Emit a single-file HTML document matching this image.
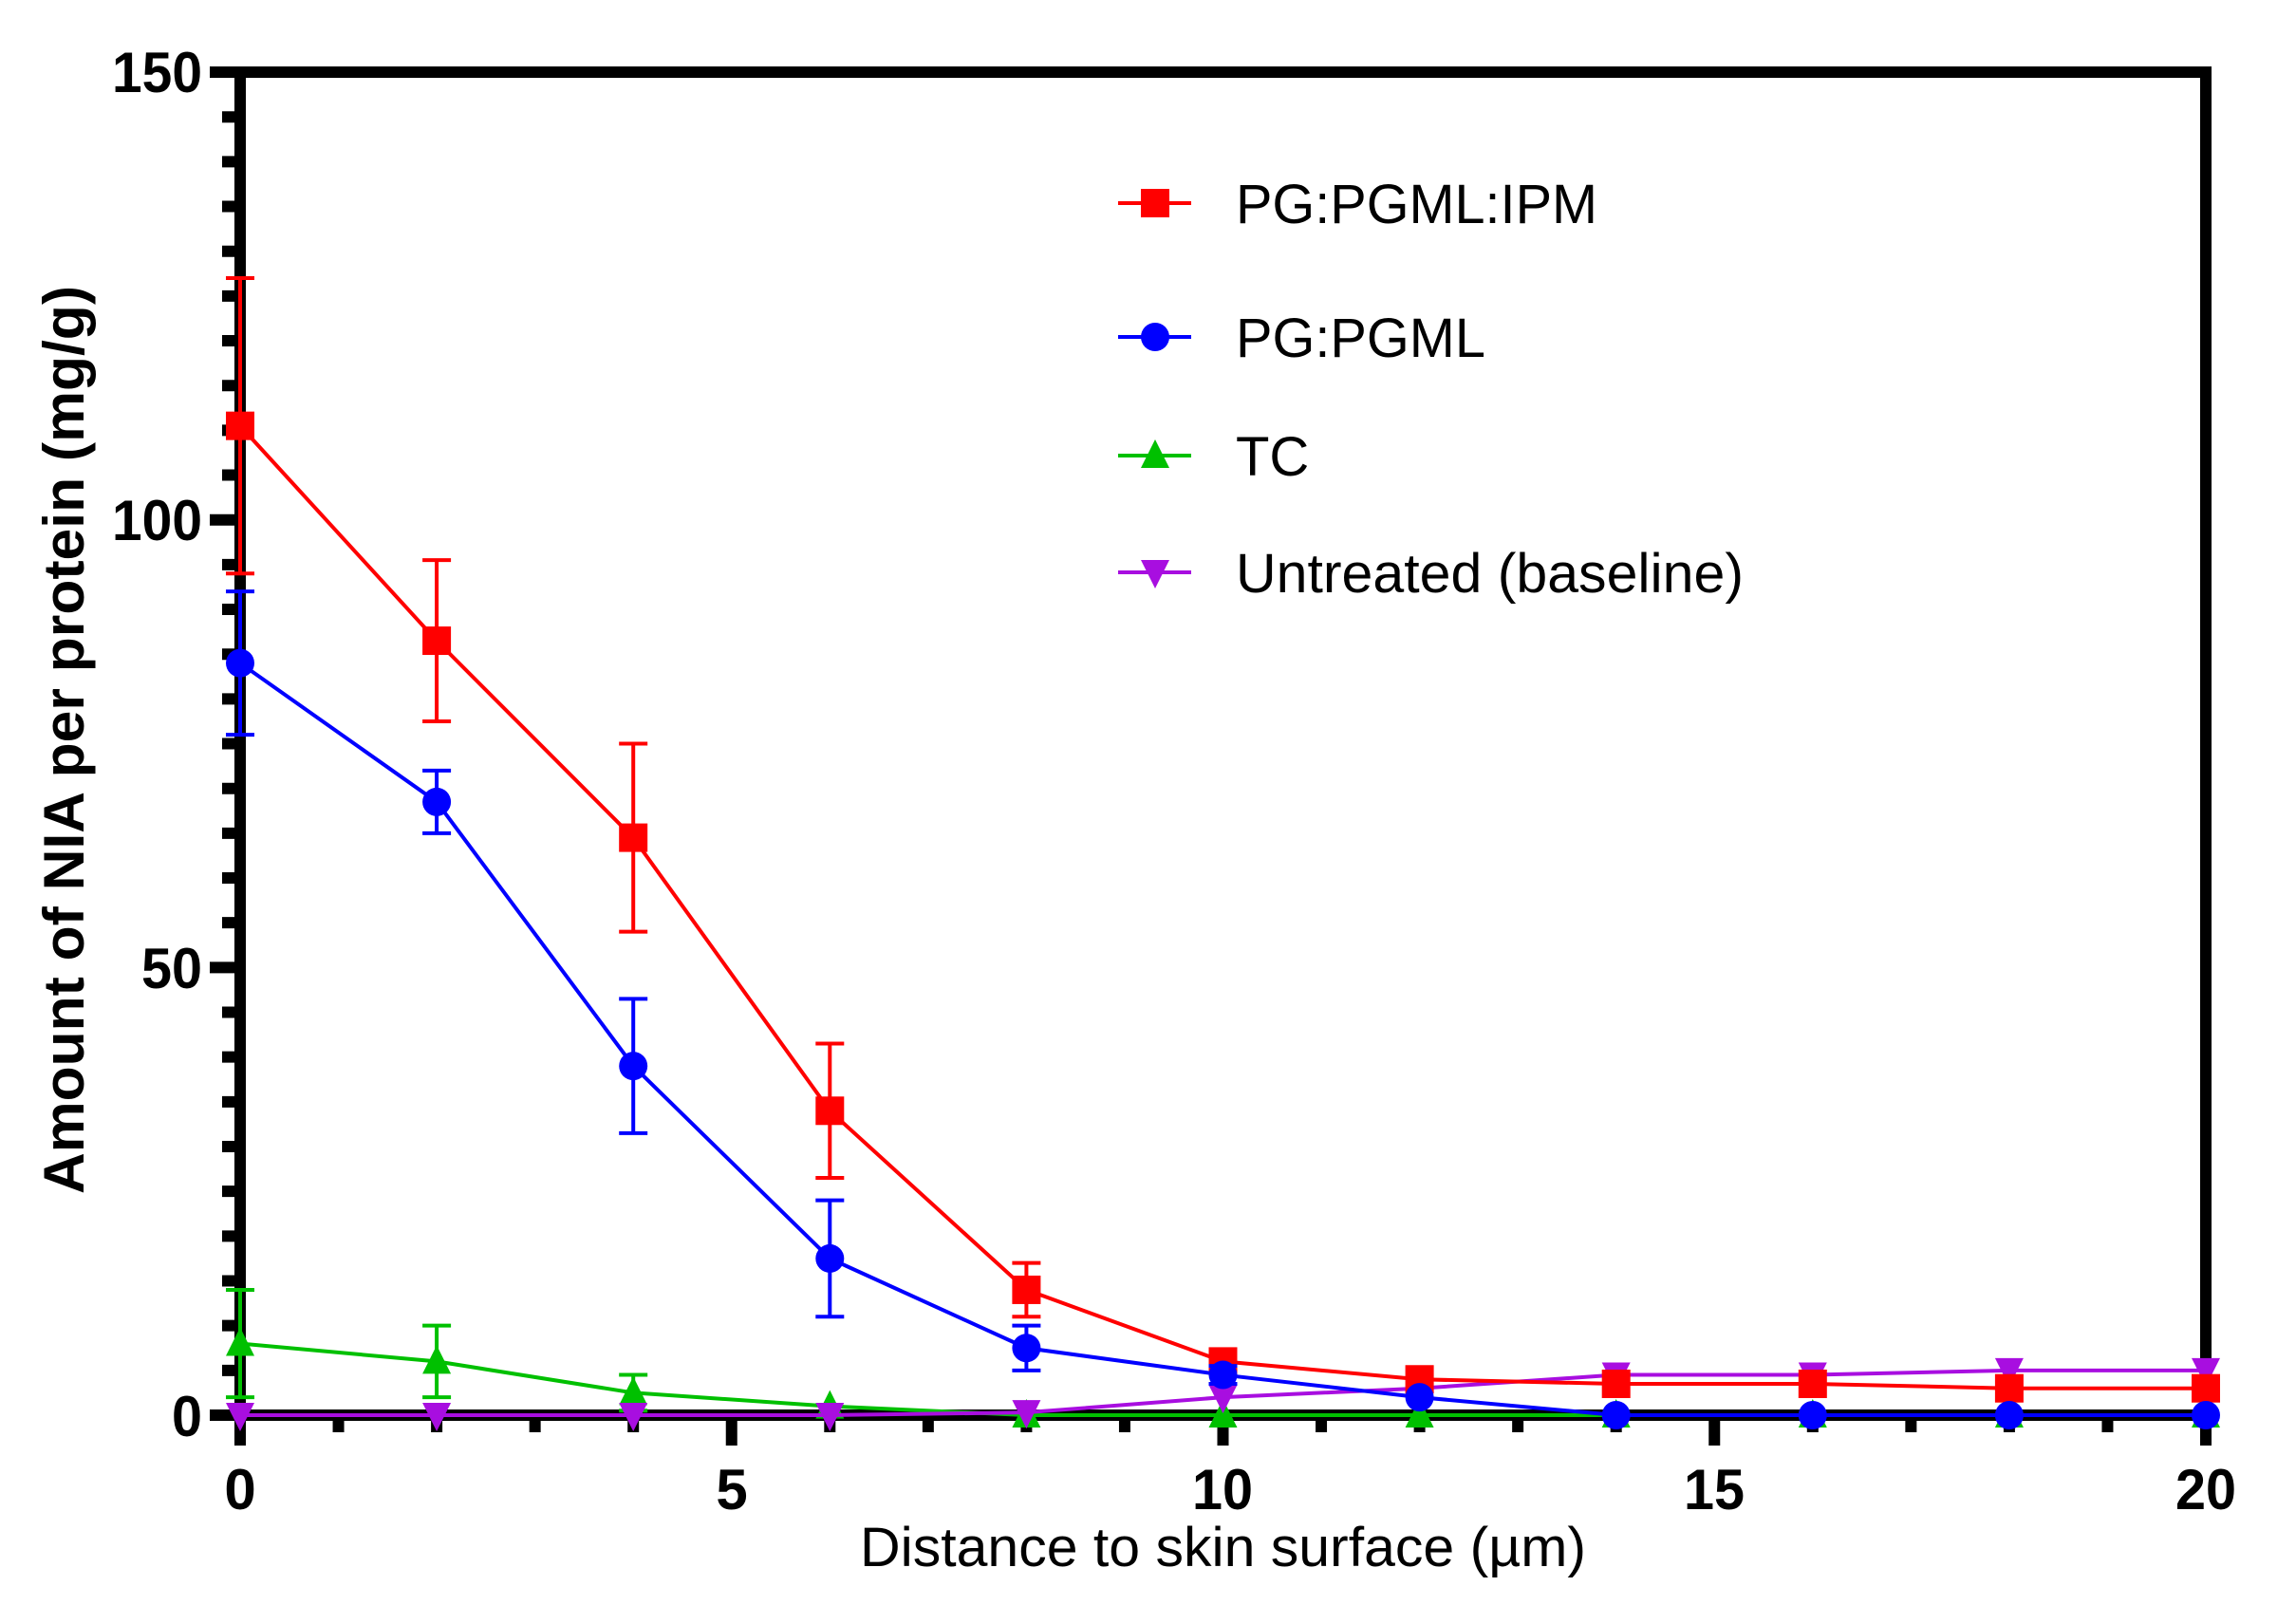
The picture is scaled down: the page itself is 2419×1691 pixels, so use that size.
<!DOCTYPE html>
<html><head><meta charset="utf-8"><style>html,body{margin:0;padding:0;background:#fff}svg{display:block}</style></head>
<body>
<svg id="s" width="2419" height="1691" viewBox="0 0 2419 1691" xmlns="http://www.w3.org/2000/svg">
<rect width="2419" height="1691" fill="#fff"/>
<g id="axes"></g>
<g id="data"></g>
<g font-family="Liberation Sans, Arial, sans-serif" fill="#000">
<text x="213" y="97" font-size="60" font-weight="bold" text-anchor="end" textLength="95" lengthAdjust="spacingAndGlyphs">150</text>
<text x="213" y="569" font-size="60" font-weight="bold" text-anchor="end" textLength="95" lengthAdjust="spacingAndGlyphs">100</text>
<text x="213" y="1041" font-size="60" font-weight="bold" text-anchor="end" textLength="64" lengthAdjust="spacingAndGlyphs">50</text>
<text x="213" y="1513" font-size="60" font-weight="bold" text-anchor="end" textLength="32" lengthAdjust="spacingAndGlyphs">0</text>
<text x="253" y="1590" font-size="60" font-weight="bold" text-anchor="middle">0</text>
<text x="771" y="1590" font-size="60" font-weight="bold" text-anchor="middle">5</text>
<text x="1288" y="1590" font-size="60" font-weight="bold" text-anchor="middle" textLength="64" lengthAdjust="spacingAndGlyphs">10</text>
<text x="1806" y="1590" font-size="60" font-weight="bold" text-anchor="middle" textLength="64" lengthAdjust="spacingAndGlyphs">15</text>
<text x="2324" y="1590" font-size="60" font-weight="bold" text-anchor="middle" textLength="64" lengthAdjust="spacingAndGlyphs">20</text>
<text x="906" y="1650" font-size="58" textLength="765" lengthAdjust="spacingAndGlyphs">Distance to skin surface (µm)</text>
<text transform="translate(88,1258) rotate(-90)" font-size="60" font-weight="bold" textLength="957" lengthAdjust="spacingAndGlyphs">Amount of NIA per protein (mg/g)</text>
<text x="1302" y="235" font-size="58" textLength="381" lengthAdjust="spacingAndGlyphs">PG:PGML:IPM</text>
<text x="1302" y="376" font-size="58" textLength="263" lengthAdjust="spacingAndGlyphs">PG:PGML</text>
<text x="1302" y="501" font-size="58">TC</text>
<text x="1302" y="624" font-size="58" textLength="535" lengthAdjust="spacingAndGlyphs">Untreated (baseline)</text>
</g>
</svg>
<script>
var NS="http://www.w3.org/2000/svg";
function el(p,t,a){var e=document.createElementNS(NS,t);for(var k in a)e.setAttribute(k,a[k]);p.appendChild(e);return e;}
var ax=document.getElementById('axes'),dg=document.getElementById('data');
function X(v){return 253+v*103.55;}function Y(v){return 1491-v*9.433;}
var K='#000';
el(ax,'line',{x1:221,y1:76,x2:2330,y2:76,stroke:K,'stroke-width':12});
el(ax,'line',{x1:2324,y1:70,x2:2324,y2:1497,stroke:K,'stroke-width':12});
el(ax,'line',{x1:221,y1:1491,x2:2330,y2:1491,stroke:K,'stroke-width':12});
el(ax,'line',{x1:253,y1:70,x2:253,y2:1523,stroke:K,'stroke-width':12});
for(var v=0;v<=150;v+=5){var y=Y(v);var maj=v%50==0;el(ax,'line',{x1:maj?221:234,y1:y,x2:253,y2:y,stroke:K,'stroke-width':12});}
for(var v=1;v<=20;v++){var x=X(v);var maj=v%5==0;el(ax,'line',{x1:x,y1:1491,x2:x,y2:maj?1523:1509,stroke:K,'stroke-width':12});}
var xs=[0,2,4,6,8,10,12,14,16,18,20];
var S=[
 {c:'#00c000',m:'tu',y:[8,6,2.5,1,0,0,0,0,0,0,0],e:[6,4,2,0,0,0,0,0,0,0,0]},
 {c:'#a80ee0',m:'td',y:[0,0,0,0,0.3,2,3,4.5,4.5,5,5],e:[0,0,0,0,0,0,0,0,0,0,0]},
 {c:'#ff0000',m:'sq',y:[110.5,86.5,64.5,34,14,6,4,3.5,3.5,3,3],e:[16.5,9,10.5,7.5,3,0.5,0,0,0,0,0]},
 {c:'#0000ff',m:'ci',y:[84,68.5,39,17.5,7.5,4.5,2,0,0,0,0],e:[8,3.5,7.5,6.5,2.5,1,0,0,0,0,0]}
];
function mark(p,m,x,y,c){
 if(m=='sq')el(p,'rect',{x:x-15,y:y-15,width:30,height:30,fill:c});
 else if(m=='ci')el(p,'circle',{cx:x,cy:y,r:15,fill:c});
 else if(m=='tu')el(p,'polygon',{points:(x-15)+','+(y+13)+' '+(x+15)+','+(y+13)+' '+x+','+(y-17),fill:c});
 else el(p,'polygon',{points:(x-15)+','+(y-13)+' '+(x+15)+','+(y-13)+' '+x+','+(y+17),fill:c});
}
S.forEach(function(s){
 var pts=xs.map(function(v,i){return X(v)+','+Y(s.y[i]);}).join(' ');
 el(dg,'polyline',{points:pts,fill:'none',stroke:s.c,'stroke-width':4});
 xs.forEach(function(v,i){var e=s.e[i];if(e>0){var x=X(v),a=Y(s.y[i]+e),b=Y(s.y[i]-e);
  el(dg,'line',{x1:x,y1:a,x2:x,y2:b,stroke:s.c,'stroke-width':4});
  el(dg,'line',{x1:x-15,y1:a,x2:x+15,y2:a,stroke:s.c,'stroke-width':4});
  el(dg,'line',{x1:x-15,y1:b,x2:x+15,y2:b,stroke:s.c,'stroke-width':4});}});
 xs.forEach(function(v,i){mark(dg,s.m,X(v),Y(s.y[i]),s.c);});
});
var L=[['#ff0000','sq',214],['#0000ff','ci',355],['#00c000','tu',480],['#a80ee0','td',603]];
L.forEach(function(l){el(dg,'line',{x1:1178,y1:l[2],x2:1255,y2:l[2],stroke:l[0],'stroke-width':4});mark(dg,l[1],1217,l[2],l[0]);});
</script>
</body></html>
